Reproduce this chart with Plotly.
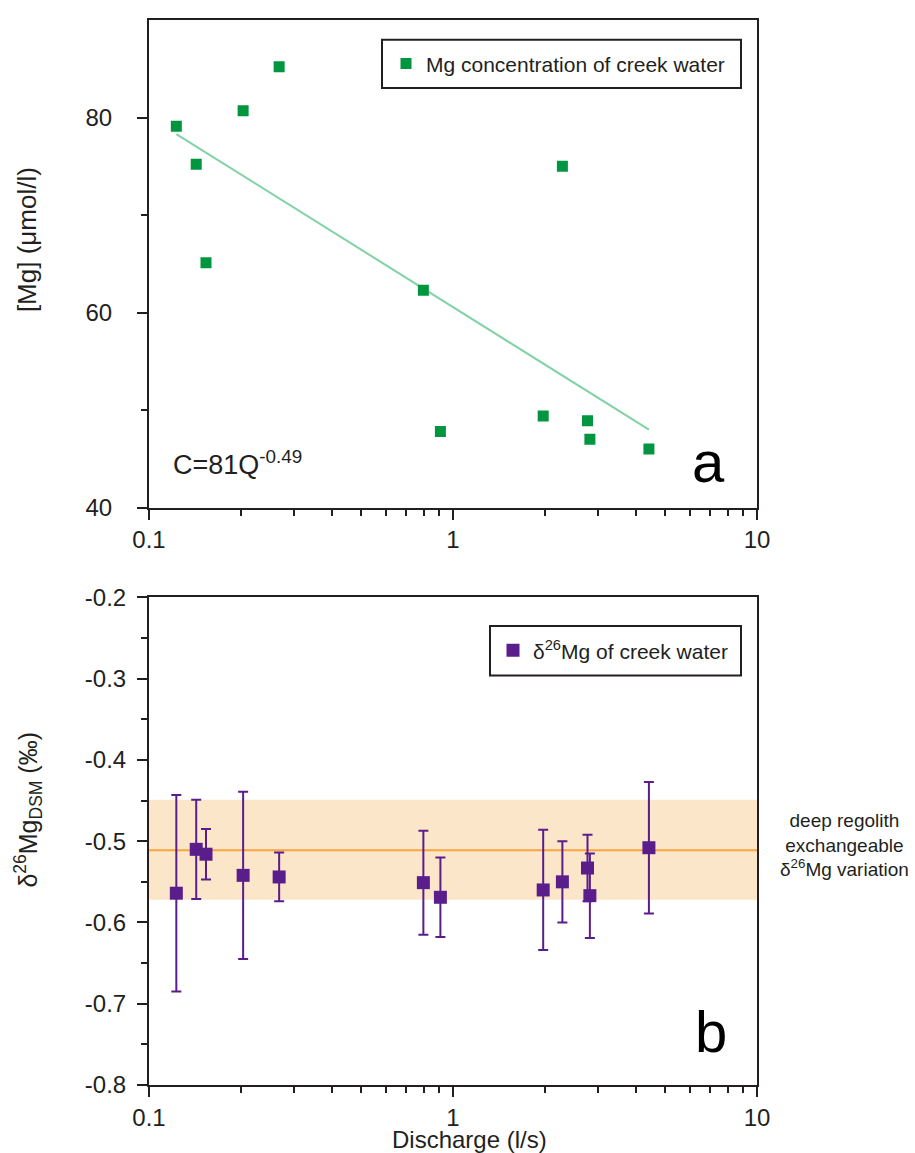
import plotly.graph_objects as go

# ---------------- data ----------------
discharge = [0.123, 0.143, 0.154, 0.204, 0.268, 0.799, 0.909, 1.98, 2.29, 2.77, 2.82, 4.41]
mg_conc = [79.1, 75.2, 65.1, 80.7, 85.2, 62.3, 47.8, 49.4, 75.0, 48.9, 47.0, 46.0]

fit_x = [0.123, 4.41]
fit_y = [78.3, 48.0]

d26_x = [0.123, 0.143, 0.154, 0.204, 0.268, 0.799, 0.909, 1.98, 2.29, 2.77, 2.82, 4.41]
d26_mg = [-0.564, -0.510, -0.516, -0.542, -0.544, -0.551, -0.569, -0.560, -0.550, -0.533, -0.567, -0.508]
d26_err = [0.121, 0.061, 0.031, 0.103, 0.030, 0.064, 0.049, 0.074, 0.050, 0.041, 0.052, 0.081]

band_low = -0.572
band_high = -0.449
band_mean = -0.511

x_tickvals = [0.1, 1, 10]
x_ticktext = ["0.1", "1", "10"]
ya_tickvals = [40, 60, 80]
ya_ticktext = ["40", "60", "80"]
yb_tickvals = [-0.8, -0.7, -0.6, -0.5, -0.4, -0.3, -0.2]
yb_ticktext = ["-0.8", "-0.7", "-0.6", "-0.5", "-0.4", "-0.3", "-0.2"]

# ---------------- style ----------------
FONT = "Arial, 'Liberation Sans', Helvetica, sans-serif"
INK = "#231f20"
GREEN = "#00963f"
FITGREEN = "#80d2a6"
PURPLE = "#5a1e8c"
BAND = "#fce6c9"
ORANGE = "#f6a540"

W, H = 915, 1153
ML, MR, MT, MB = 149, 158, 6, 68
PW, PH = W - ML - MR, H - MT - MB


def px(x):
    return (x - ML) / PW


def py(y):
    return (H - MB - y) / PH


top_dom = [py(500), 1.0]
bot_dom = [0.0, py(591)]

minor_x = [m * 10 ** e for e in (-1, 0) for m in range(2, 10)]

fig = go.Figure()

fig.add_trace(go.Scatter(
    x=fit_x, y=fit_y, mode="lines", line=dict(color=FITGREEN, width=2),
    showlegend=False, xaxis="x", yaxis="y", hoverinfo="skip"))
fig.add_trace(go.Scatter(
    x=discharge, y=mg_conc, mode="markers", name="Mg concentration of creek water",
    marker=dict(symbol="square", size=11, color=GREEN),
    xaxis="x", yaxis="y", legend="legend"))

fig.add_trace(go.Scatter(
    x=d26_x, y=d26_mg, mode="markers", name="δ<sup>26</sup>Mg of creek water",
    marker=dict(symbol="square", size=13, color=PURPLE),
    error_y=dict(type="data", array=d26_err, visible=True, color=PURPLE, thickness=2, width=5),
    xaxis="x2", yaxis="y2", legend="legend2"))

common_x = dict(
    type="log", range=[-1, 1], tickvals=x_tickvals, ticktext=x_ticktext,
    ticks="outside", ticklen=10, tickwidth=2, tickcolor=INK,
    showline=True, linewidth=2, linecolor=INK, mirror=True,
    showgrid=False, zeroline=False,
    minor=dict(tickvals=minor_x, ticks="outside", ticklen=6, tickwidth=2, tickcolor=INK, showgrid=False),
    tickfont=dict(family=FONT, size=24, color=INK),
)

box = dict(type="rect", xref="paper", yref="paper", line=dict(color=INK, width=2),
           fillcolor="rgba(0,0,0,0)", layer="above")

fig.update_layout(
    width=W, height=H,
    margin=dict(l=ML, r=MR, t=MT, b=MB),
    paper_bgcolor="white", plot_bgcolor="white",
    font=dict(family=FONT, color=INK),
    xaxis=dict(common_x, anchor="y", domain=[0, 1]),
    xaxis2=dict(common_x, anchor="y2", domain=[0, 1], ticklabelstandoff=0),
    yaxis=dict(
        domain=top_dom, anchor="x", range=[40, 90], tickvals=ya_tickvals, ticktext=ya_ticktext,
        ticks="outside", ticklen=10, tickwidth=2, tickcolor=INK,
        showline=True, linewidth=2, linecolor=INK, mirror=True,
        showgrid=False, zeroline=False, ticklabelstandoff=20,
        minor=dict(tickvals=[50, 70], ticks="outside", ticklen=6, tickwidth=2, tickcolor=INK, showgrid=False),
        tickfont=dict(family=FONT, size=24, color=INK),
    ),
    yaxis2=dict(
        domain=bot_dom, anchor="x2", range=[-0.8, -0.2], tickvals=yb_tickvals, ticktext=yb_ticktext,
        ticks="outside", ticklen=10, tickwidth=2, tickcolor=INK,
        showline=True, linewidth=2, linecolor=INK, mirror=True,
        showgrid=False, zeroline=False, ticklabelstandoff=6,
        minor=dict(dtick=0.05, tick0=0, ticks="outside", ticklen=6, tickwidth=2, tickcolor=INK, showgrid=False),
        tickfont=dict(family=FONT, size=24, color=INK),
    ),
    legend=dict(
        x=px(386), y=py(50.5), xanchor="left", yanchor="middle",
        borderwidth=0, bgcolor="rgba(0,0,0,0)",
        font=dict(family=FONT, size=21, color=INK),
    ),
    legend2=dict(
        x=px(493), y=py(645), xanchor="left", yanchor="middle",
        borderwidth=0, bgcolor="rgba(0,0,0,0)",
        font=dict(family=FONT, size=21, color=INK),
    ),
    shapes=[
        dict(type="rect", xref="x2 domain", yref="y2", x0=0, x1=1, y0=band_low, y1=band_high,
             fillcolor=BAND, line=dict(width=0), layer="below"),
        dict(type="line", xref="x2 domain", yref="y2", x0=0, x1=1, y0=band_mean, y1=band_mean,
             line=dict(color=ORANGE, width=2), layer="below"),
        dict(box, x0=px(382), x1=px(741), y0=py(75), y1=py(26)),
        dict(box, x0=px(490), x1=px(741), y0=py(670), y1=py(620)),
    ],
    annotations=[
        dict(text="C=81Q<sup>-0.49</sup>", xref="paper", yref="paper", x=px(171), y=py(455),
             xanchor="left", yanchor="middle", showarrow=False,
             font=dict(family=FONT, size=27, color=INK)),
        dict(text="a", xref="paper", yref="paper", x=px(708), y=py(453),
             xanchor="center", yanchor="middle", showarrow=False,
             font=dict(family=FONT, size=58, color="black")),
        dict(text="b", xref="paper", yref="paper", x=px(711), y=py(1031),
             xanchor="center", yanchor="middle", showarrow=False,
             font=dict(family=FONT, size=58, color="black")),
        dict(text="deep regolith<br>exchangeable<br>δ<sup>26</sup>Mg variation", xref="paper", yref="paper",
             x=px(845), y=py(842), xanchor="center", yanchor="middle", align="center", showarrow=False,
             font=dict(family=FONT, size=19, color=INK)),
        dict(text="Discharge (l/s)", xref="paper", yref="paper", x=px(469), y=py(1140),
             xanchor="center", yanchor="middle", showarrow=False,
             font=dict(family=FONT, size=24, color=INK)),
        dict(text="[Mg] (μmol/l)", xref="paper", yref="paper", x=px(27), y=py(228),
             xanchor="center", yanchor="middle", textangle=-90, showarrow=False,
             font=dict(family=FONT, size=26, color=INK)),
        dict(text="δ<sup>26</sup>Mg<sub>DSM</sub> (‰)", xref="paper", yref="paper", x=px(28), y=py(806),
             xanchor="center", yanchor="middle", textangle=-90, showarrow=False,
             font=dict(family=FONT, size=25, color=INK)),
    ],
)

fig.write_html("out.html", config={"displayModeBar": False},
               post_script="document.body.style.margin='0px';")
